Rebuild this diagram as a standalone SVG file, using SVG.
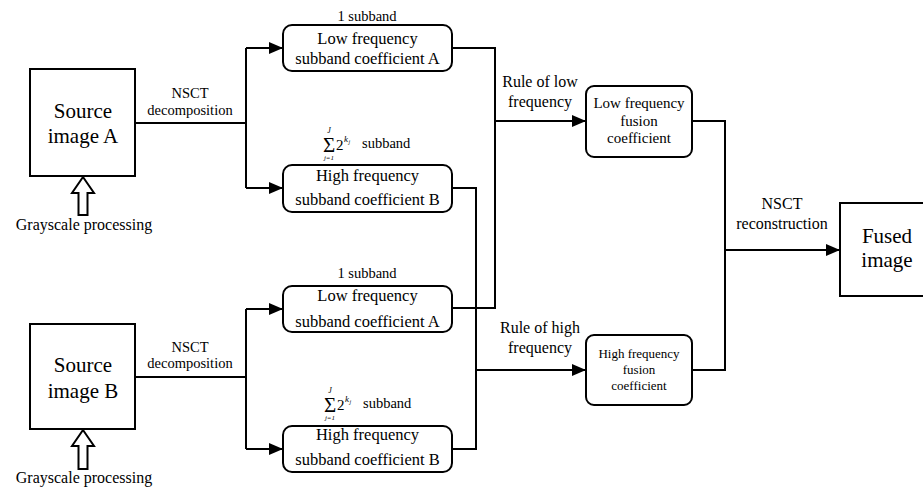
<svg xmlns="http://www.w3.org/2000/svg" width="923" height="491" viewBox="0 0 923 491">
  <style>
    .box { fill: #fff; stroke: #000; stroke-width: 2; }
    .wire { fill: none; stroke: #000; stroke-width: 2; }
    .hollow { fill: #fff; stroke: #000; stroke-width: 2; stroke-linejoin: miter; }
    text { font-family: "Liberation Serif", "Times New Roman", serif; fill: #000; text-anchor: middle; }
    .big { font-size: 21px; }
    .mid { font-size: 16.5px; }
    .lbl { font-size: 14.5px; }
    .rule { font-size: 16px; }
    .fus { font-size: 15px; }
    .fush { font-size: 13px; }
    .st { text-anchor: start; }
    .it { font-style: italic; }
  </style>
  <defs>
    <marker id="arrow" markerUnits="userSpaceOnUse" markerWidth="14" markerHeight="14" viewBox="0 0 14 14" refX="14" refY="7" orient="auto">
      <path d="M0,1 L14,7 L0,13 Z" fill="#000"/>
    </marker>
    <!-- sum over j=1..J of 2^(k_j) subbands -->
    <g id="sumlabel">
      <text x="329" y="152" style="font-size:21px">Σ</text>
      <text x="329" y="133" class="it" style="font-size:8px">J</text>
      <text x="329" y="160" class="it" style="font-size:7px">j=1</text>
      <text x="336" y="150" class="st" style="font-size:15px">2</text>
      <text x="344" y="142" class="st it" style="font-size:9px">k</text>
      <text x="348.5" y="144" class="st it" style="font-size:6px">j</text>
      <text x="362" y="148" class="st lbl">subband</text>
    </g>
  </defs>

  <!-- connectors -->
  <g id="connectors">
    <!-- branch A -->
    <path class="wire" d="M135,123 H246 M246,48 V188"/>
    <path class="wire" d="M246,48 H283" marker-end="url(#arrow)"/>
    <path class="wire" d="M246,188 H283" marker-end="url(#arrow)"/>
    <!-- branch B -->
    <path class="wire" d="M135,377 H246 M246,309 V449"/>
    <path class="wire" d="M246,309 H283" marker-end="url(#arrow)"/>
    <path class="wire" d="M246,449 H283" marker-end="url(#arrow)"/>
    <!-- low frequency merge -->
    <path class="wire" d="M452,48 H495 V308 H452"/>
    <path class="wire" d="M495,121 H586" marker-end="url(#arrow)"/>
    <!-- high frequency merge -->
    <path class="wire" d="M452,188 H476 V449 H452"/>
    <path class="wire" d="M476,370 H586" marker-end="url(#arrow)"/>
    <!-- reconstruction -->
    <path class="wire" d="M692,121 H725 V370 H692"/>
    <path class="wire" d="M725,250 H840" marker-end="url(#arrow)"/>
    <!-- grayscale input arrows -->
    <path class="hollow" d="M83,177 L94,193 L87.5,193 L87.5,215 L78.5,215 L78.5,193 L72,193 Z"/>
    <path class="hollow" d="M83,430 L94,446 L87.5,446 L87.5,469 L78.5,469 L78.5,446 L72,446 Z"/>
  </g>

  <!-- edge labels -->
  <g id="labels">
    <text x="190" y="98" class="lbl">NSCT</text>
    <text x="190" y="115" class="lbl">decomposition</text>
    <text x="190" y="352" class="lbl">NSCT</text>
    <text x="190" y="368" class="lbl">decomposition</text>
    <text x="84" y="230" class="rule">Grayscale processing</text>
    <text x="84" y="483" class="rule">Grayscale processing</text>
    <text x="367" y="21" class="lbl">1 subband</text>
    <text x="367" y="278" class="lbl">1 subband</text>
    <use href="#sumlabel"/>
    <use href="#sumlabel" transform="translate(1,260)"/>
    <text x="540" y="87" class="rule">Rule of low</text>
    <text x="540" y="107" class="rule">frequency</text>
    <text x="540" y="333" class="rule">Rule of high</text>
    <text x="540" y="353" class="rule">frequency</text>
    <text x="782" y="209" class="rule">NSCT</text>
    <text x="782" y="229" class="rule">reconstruction</text>
  </g>

  <g id="source-a">
    <rect class="box" x="30" y="69" width="105" height="107"/>
    <text x="83" y="118" class="big">Source</text>
    <text x="83" y="143" class="big">image A</text>
  </g>

  <g id="source-b">
    <rect class="box" x="30" y="324" width="105" height="105"/>
    <text x="83" y="372" class="big">Source</text>
    <text x="83" y="398" class="big">image B</text>
  </g>

  <g id="low-a-1">
    <rect class="box" x="283" y="25" width="169" height="46" rx="9"/>
    <text x="367.5" y="44" class="mid">Low frequency</text>
    <text x="367.5" y="64" class="mid">subband coefficient A</text>
  </g>

  <g id="high-b-1">
    <rect class="box" x="283" y="165" width="169" height="47" rx="9"/>
    <text x="367.5" y="181" class="mid">High frequency</text>
    <text x="367.5" y="205" class="mid">subband coefficient B</text>
  </g>

  <g id="low-a-2">
    <rect class="box" x="283" y="286" width="169" height="46" rx="9"/>
    <text x="367.5" y="301" class="mid">Low frequency</text>
    <text x="367.5" y="327" class="mid">subband coefficient A</text>
  </g>

  <g id="high-b-2">
    <rect class="box" x="283" y="426" width="169" height="46" rx="9"/>
    <text x="367.5" y="440" class="mid">High frequency</text>
    <text x="367.5" y="465" class="mid">subband coefficient B</text>
  </g>

  <g id="low-fusion">
    <rect class="box" x="586" y="86" width="106" height="71" rx="8"/>
    <text x="639" y="108" class="fus">Low frequency</text>
    <text x="639" y="126" class="fus">fusion</text>
    <text x="639" y="143" class="fus">coefficient</text>
  </g>

  <g id="high-fusion">
    <rect class="box" x="586" y="335" width="106" height="70" rx="8"/>
    <text x="639" y="358" class="fush">High frequency</text>
    <text x="639" y="374" class="fush">fusion</text>
    <text x="639" y="390" class="fush">coefficient</text>
  </g>

  <g id="fused">
    <rect class="box" x="840" y="203" width="96" height="93"/>
    <text x="887" y="243" class="big">Fused</text>
    <text x="887" y="267" class="big">image</text>
  </g>
</svg>
